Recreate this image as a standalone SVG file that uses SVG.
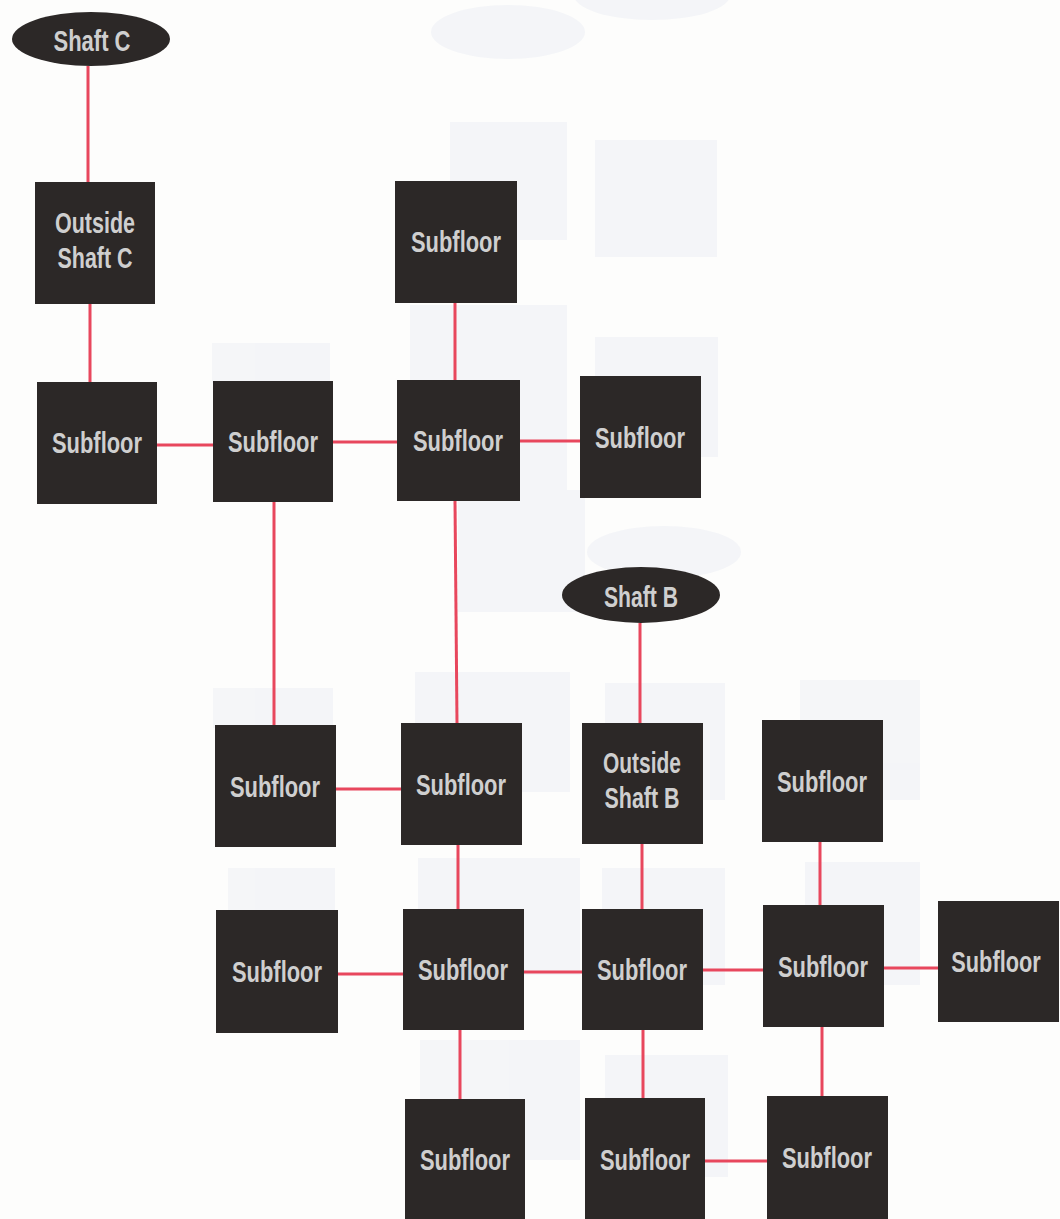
<svg xmlns="http://www.w3.org/2000/svg" width="1060" height="1219" viewBox="0 0 1060 1219">
<style>
.bg{fill:#fdfdfc}
.ghost{fill:#f1f3f7}
.box{fill:#2c2827}
.lbl{font-family:"Liberation Sans",Arial,sans-serif;font-size:29px;font-weight:bold;fill:#cfcfcf;text-anchor:middle}
.conn line{stroke:#e8475d;stroke-width:3}
</style>
<rect class="bg" x="0" y="0" width="1060" height="1219"/>
<g id="ghosts" opacity="0.75">
<ellipse class="ghost" cx="508" cy="32" rx="77" ry="27"/>
<ellipse class="ghost" cx="652" cy="-5" rx="78" ry="25"/>
<rect class="ghost" x="450" y="122" width="117" height="118"/>
<rect class="ghost" x="595" y="140" width="122" height="117"/>
<rect class="ghost" x="410" y="305" width="157" height="192"/>
<rect class="ghost" x="212" y="343" width="118" height="40"/>
<rect class="ghost" x="595" y="337" width="123" height="120"/>
<rect class="ghost" x="458" y="490" width="127" height="122"/>
<ellipse class="ghost" cx="664" cy="552" rx="77" ry="26"/>
<rect class="ghost" x="213" y="688" width="120" height="40"/>
<rect class="ghost" x="415" y="672" width="155" height="120"/>
<rect class="ghost" x="605" y="683" width="120" height="117"/>
<rect class="ghost" x="800" y="680" width="120" height="120"/>
<rect class="ghost" x="228" y="868" width="107" height="42"/>
<rect class="ghost" x="418" y="858" width="162" height="117"/>
<rect class="ghost" x="602" y="868" width="123" height="117"/>
<rect class="ghost" x="805" y="862" width="115" height="123"/>
<rect class="ghost" x="420" y="1040" width="160" height="120"/>
<rect class="ghost" x="605" y="1055" width="123" height="122"/>
</g>
<g id="connectors" class="conn">
<line x1="88" y1="66" x2="88" y2="182"/>
<line x1="90" y1="304" x2="90" y2="382"/>
<line x1="157" y1="445" x2="213" y2="445"/>
<line x1="333" y1="442" x2="397" y2="442"/>
<line x1="520" y1="441" x2="580" y2="441"/>
<line x1="455" y1="303" x2="455" y2="380"/>
<line x1="274" y1="502" x2="274" y2="725"/>
<line x1="455" y1="501" x2="457" y2="723"/>
<line x1="336" y1="789" x2="401" y2="789"/>
<line x1="640" y1="623" x2="640" y2="723"/>
<line x1="642" y1="844" x2="642" y2="909"/>
<line x1="458" y1="845" x2="458" y2="909"/>
<line x1="820" y1="842" x2="820" y2="905"/>
<line x1="338" y1="974" x2="403" y2="974"/>
<line x1="524" y1="972" x2="582" y2="972"/>
<line x1="703" y1="970" x2="763" y2="970"/>
<line x1="884" y1="968" x2="938" y2="968"/>
<line x1="460" y1="1030" x2="460" y2="1099"/>
<line x1="643" y1="1030" x2="643" y2="1098"/>
<line x1="822" y1="1027" x2="822" y2="1096"/>
<line x1="705" y1="1161" x2="767" y2="1161"/>
</g>
<g id="shaftC"><ellipse class="box" cx="91" cy="39" rx="79" ry="27"/><text class="lbl" x="92" y="51" textLength="77" lengthAdjust="spacingAndGlyphs">Shaft C</text></g>
<g id="outsideC"><rect class="box" x="35" y="182" width="120" height="122"/><text class="lbl" x="95" y="233" textLength="80" lengthAdjust="spacingAndGlyphs">Outside</text><text class="lbl" x="95" y="268" textLength="75" lengthAdjust="spacingAndGlyphs">Shaft C</text></g>
<g id="sub1"><rect class="box" x="37" y="382" width="120" height="122"/><text class="lbl" x="97" y="453" textLength="90" lengthAdjust="spacingAndGlyphs">Subfloor</text></g>
<g id="sub2"><rect class="box" x="213" y="381" width="120" height="121"/><text class="lbl" x="273" y="452" textLength="90" lengthAdjust="spacingAndGlyphs">Subfloor</text></g>
<g id="sub3"><rect class="box" x="395" y="181" width="122" height="122"/><text class="lbl" x="456" y="252" textLength="90" lengthAdjust="spacingAndGlyphs">Subfloor</text></g>
<g id="sub4"><rect class="box" x="397" y="380" width="123" height="121"/><text class="lbl" x="458" y="451" textLength="90" lengthAdjust="spacingAndGlyphs">Subfloor</text></g>
<g id="sub5"><rect class="box" x="580" y="376" width="121" height="122"/><text class="lbl" x="640" y="448" textLength="90" lengthAdjust="spacingAndGlyphs">Subfloor</text></g>
<g id="shaftB"><ellipse class="box" cx="641" cy="595" rx="79" ry="28"/><text class="lbl" x="641" y="607" textLength="74" lengthAdjust="spacingAndGlyphs">Shaft B</text></g>
<g id="sub6"><rect class="box" x="215" y="725" width="121" height="122"/><text class="lbl" x="275" y="797" textLength="90" lengthAdjust="spacingAndGlyphs">Subfloor</text></g>
<g id="sub7"><rect class="box" x="401" y="723" width="121" height="122"/><text class="lbl" x="461" y="795" textLength="90" lengthAdjust="spacingAndGlyphs">Subfloor</text></g>
<g id="outsideB"><rect class="box" x="582" y="723" width="121" height="121"/><text class="lbl" x="642" y="773" textLength="78" lengthAdjust="spacingAndGlyphs">Outside</text><text class="lbl" x="642" y="808" textLength="75" lengthAdjust="spacingAndGlyphs">Shaft B</text></g>
<g id="sub8"><rect class="box" x="762" y="720" width="121" height="122"/><text class="lbl" x="822" y="792" textLength="90" lengthAdjust="spacingAndGlyphs">Subfloor</text></g>
<g id="sub9"><rect class="box" x="216" y="910" width="122" height="123"/><text class="lbl" x="277" y="982" textLength="90" lengthAdjust="spacingAndGlyphs">Subfloor</text></g>
<g id="sub10"><rect class="box" x="403" y="909" width="121" height="121"/><text class="lbl" x="463" y="980" textLength="90" lengthAdjust="spacingAndGlyphs">Subfloor</text></g>
<g id="sub11"><rect class="box" x="582" y="909" width="121" height="121"/><text class="lbl" x="642" y="980" textLength="90" lengthAdjust="spacingAndGlyphs">Subfloor</text></g>
<g id="sub12"><rect class="box" x="763" y="905" width="121" height="122"/><text class="lbl" x="823" y="977" textLength="90" lengthAdjust="spacingAndGlyphs">Subfloor</text></g>
<g id="sub13"><rect class="box" x="938" y="901" width="121" height="121"/><text class="lbl" transform="translate(996 972) scale(0.75 1)" x="0" y="0">Subfloor</text></g>
<g id="sub14"><rect class="box" x="405" y="1099" width="120" height="120"/><text class="lbl" x="465" y="1170" textLength="90" lengthAdjust="spacingAndGlyphs">Subfloor</text></g>
<g id="sub15"><rect class="box" x="585" y="1098" width="120" height="121"/><text class="lbl" x="645" y="1170" textLength="90" lengthAdjust="spacingAndGlyphs">Subfloor</text></g>
<g id="sub16"><rect class="box" x="767" y="1096" width="121" height="123"/><text class="lbl" x="827" y="1168" textLength="90" lengthAdjust="spacingAndGlyphs">Subfloor</text></g>
</svg>
